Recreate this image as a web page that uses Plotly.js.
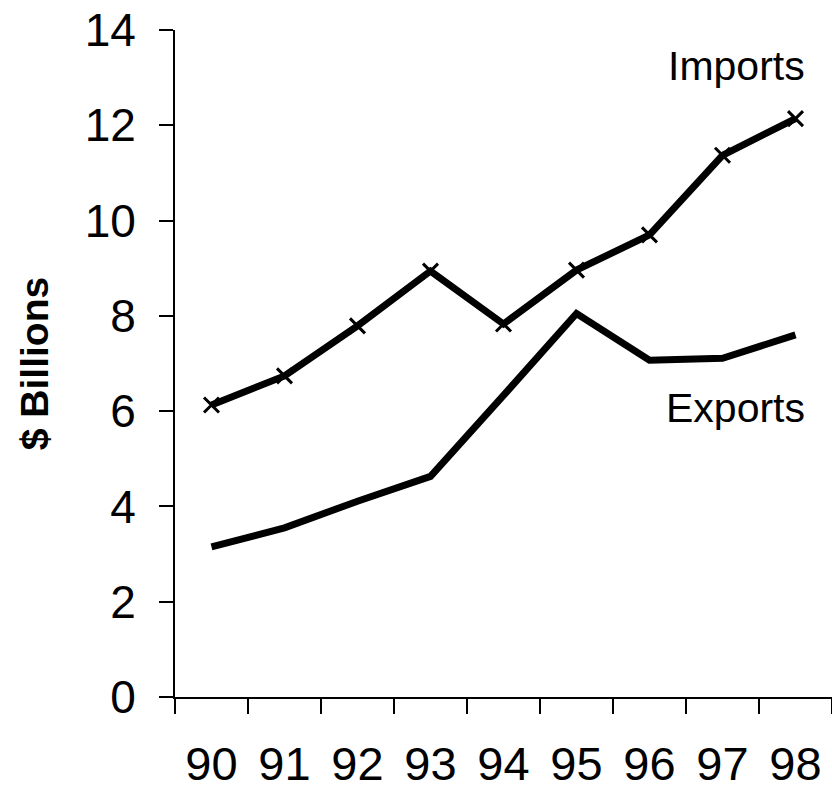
<!DOCTYPE html>
<html>
<head>
<meta charset="utf-8">
<script src="https://cdn.plot.ly/plotly-3.0.1.min.js"></script>
<style>html,body{margin:0;padding:0;background:#fff;}#chart{width:832px;height:793px;}</style>
</head>
<body>
<div id="chart"></div>
<script>
const years = ['90','91','92','93','94','95','96','97','98'];
const imports = [6.13, 6.74, 7.79, 8.94, 7.83, 8.96, 9.7, 11.37, 12.14];
const exports = [3.15, 3.55, 4.11, 4.63, 6.33, 8.05, 7.07, 7.11, 7.6];
const yTicks = [0, 2, 4, 6, 8, 10, 12, 14];
const seriesLabels = ['Imports', 'Exports'];

const FONT = 'Arial, "Liberation Sans", Helvetica, sans-serif';

const traces = [
  {
    x: years, y: imports, type: 'scatter', mode: 'lines+markers', name: seriesLabels[0],
    line: {color: '#000', width: 7},
    marker: {symbol: 'x-thin', size: 15, color: '#000', line: {color: '#000', width: 3}}
  },
  {
    x: years, y: exports, type: 'scatter', mode: 'lines', name: seriesLabels[1],
    line: {color: '#000', width: 7}
  }
];

const layout = {
  width: 832, height: 793,
  margin: {l: 175, r: 0, t: 30, b: 96},
  paper_bgcolor: '#fff', plot_bgcolor: '#fff',
  showlegend: false,
  font: {family: FONT, color: '#000'},
  xaxis: {
    type: 'category', range: [-0.5, 8.5],
    tickson: 'boundaries', ticks: 'outside', ticklen: 15, tickwidth: 2, tickcolor: '#000',
    showline: true, linecolor: '#000', linewidth: 2,
    showgrid: false, zeroline: false,
    tickfont: {size: 47, family: FONT, color: '#000'},
    ticklabelstandoff: 25
  },
  yaxis: {
    range: [0, 14], tickvals: yTicks, ticktext: yTicks.map(String),
    ticks: 'outside', ticklen: 14, tickwidth: 2, tickcolor: '#000',
    showline: true, linecolor: '#000', linewidth: 2,
    showgrid: false, zeroline: false,
    tickfont: {size: 46, family: FONT, color: '#000'},
    ticklabelstandoff: 14,
    title: {text: '<b>$ Billions</b>', font: {size: 39, family: FONT, color: '#000'}, standoff: 24}
  },
  annotations: [
    {x: 8.16, y: 13.25, xref: 'x', yref: 'y', text: seriesLabels[0], showarrow: false,
     xanchor: 'right', yanchor: 'middle', font: {size: 41, family: FONT, color: '#000'}},
    {x: 8.16, y: 6.07, xref: 'x', yref: 'y', text: seriesLabels[1], showarrow: false,
     xanchor: 'right', yanchor: 'middle', font: {size: 41, family: FONT, color: '#000'}}
  ]
};

Plotly.newPlot('chart', traces, layout, {displayModeBar: false, staticPlot: true});
</script>
</body>
</html>
